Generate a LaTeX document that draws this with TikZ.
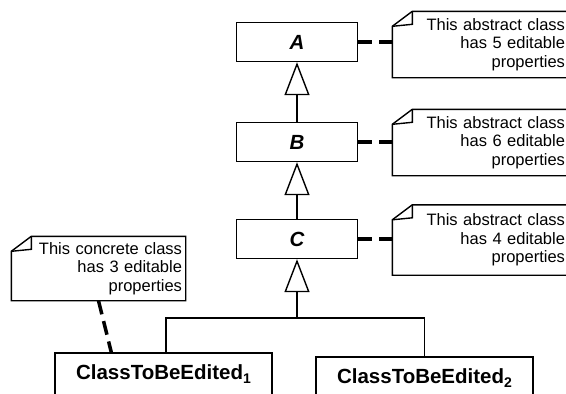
\documentclass[tikz,border=0pt]{standalone}
\usepackage{fontspec}
\setmainfont{Liberation Sans}
\usetikzlibrary{arrows.meta}

\begin{document}
\begin{tikzpicture}[
	x = 1pt, y = -1pt,  % pixel units, y going down
	line width = 1.4pt,
	absbox/.style = {draw, rectangle, minimum width=121pt, minimum height=39pt, inner sep=0pt, font=\fontsize{20.5}{22}\bfseries\itshape},
	conbox/.style = {draw, rectangle, minimum width=217pt, minimum height=42pt, inner sep=0pt, font=\fontsize{20.5}{22}\bfseries},
	note/.style = {rectangle, inner xsep=3pt, inner ysep=0pt, align=right, font=\fontsize{16.5}{18.5}\selectfont},
	absnote/.style = {note, text width=169pt, minimum height=65pt},
	inherit/.style = {-{Triangle[open, length=33pt, width=25pt, line width=1.4pt]}},
	notelink/.style = {line width=3.5pt, dash pattern=on 14pt off 7pt}
	]
	
	\clip (0,0) rectangle (566,394);
	
	\node[absbox] (A) at (297,42) {A};
	\node[absbox] (B) at (297,142) {B};
	\node[absbox] (C) at (297,239) {C};
	\node[conbox] (E1) at (163.5,374) {ClassToBeEdited\raisebox{-4pt}{\fontsize{14}{14}\selectfont 1}};
	\node[conbox] (E2) at (424.5,378) {ClassToBeEdited\raisebox{-4pt}{\fontsize{14}{14}\selectfont 2}};
	
	\node[absnote] (nA) at (480.5,44.5) {This abstract class\\has 5 editable\\properties};
	\node[absnote] (nB) at (480.5,142.5) {This abstract class\\has 6 editable\\properties};
	\node[absnote, minimum height=69pt] (nC) at (480.5,240) {This abstract class\\has 4 editable\\properties};
	\node[note, text width=167pt, minimum height=63pt] (nD) at (98.5,268.5) {This concrete class\\has 3 editable\\properties};
	
	% note outlines with folded corner
	\foreach \n in {nA,nB,nC,nD} {
		\draw (\n.north west) ++(0,15) -- ++(20,-15) -- (\n.north east) -- (\n.south east) -- (\n.south west) -- cycle;
		\draw (\n.north west) ++(0,15) -- ++(20,-2) -- ++(0,-13);
	}
	
	% generalisation
	\coordinate (j) at (297,318);
	\draw[inherit] (B.north) -- (A.south);
	\draw[inherit] (C.north) -- (B.south);
	\draw[inherit] (j) -- (C.south);
	\draw ([xshift=2.5pt]E1.north) |- (j) -| (E2.north);
	
	% attached notes
	\draw[notelink] (A.east) -- (A.east -| nA.west);
	\draw[notelink] (B.east) -- (B.east -| nB.west);
	\draw[notelink] (C.east) -- (C.east -| nC.west);
	\draw[notelink] (nD.south) -- ([xshift=57pt]E1.north west);
\end{tikzpicture}
\end{document}
